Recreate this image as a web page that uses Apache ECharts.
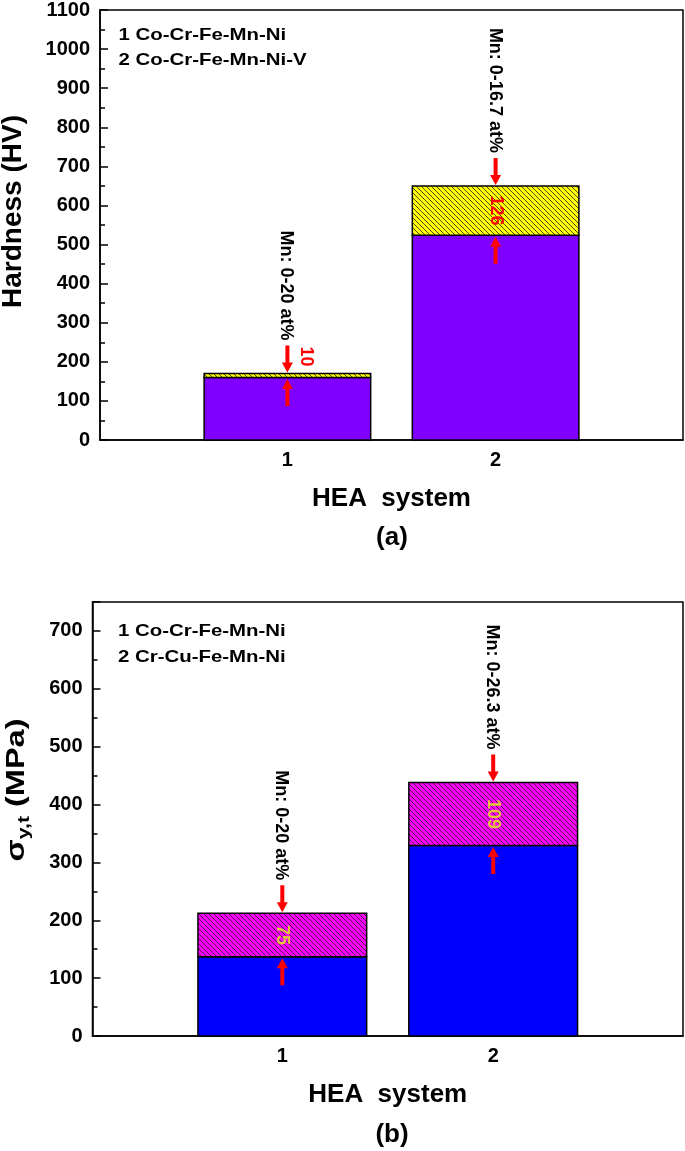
<!DOCTYPE html>
<html>
<head>
<meta charset="utf-8">
<script src="https://cdn.jsdelivr.net/npm/echarts@6/dist/echarts.min.js"></script>
<style>
html,body{margin:0;padding:0;background:#fff;}
#chart{width:685px;height:1151px;}
</style>
</head>
<body>
<div id="chart"></div>
<script>
// ---------- data ----------
const categories = [1, 2];
const hardnessBase = [160, 524];
const hardnessIncrease = [10, 126];
const strengthBase = [137, 329];
const strengthIncrease = [75, 109];
const mnRangeA = ['Mn: 0-20 at%', 'Mn: 0-16.7 at%'];
const mnRangeB = ['Mn: 0-20 at%', 'Mn: 0-26.3 at%'];
const legendA = ['1 Co-Cr-Fe-Mn-Ni', '2 Co-Cr-Fe-Mn-Ni-V'];
const legendB = ['1 Co-Cr-Fe-Mn-Ni', '2 Cr-Cu-Fe-Mn-Ni'];
const xTickValues = [1, 2];
const hardnessAxis = { min: 0, max: 1100, interval: 100 };
const strengthAxis = { min: 0, max: 750, interval: 100 };
const xAxisName = 'HEA  system';
const panelLabels = ['(a)', '(b)'];

// ---------- styles ----------
const FONT = '"Liberation Sans", Arial, sans-serif';

function hatchCanvas(bg, lineColor) {
  const c = document.createElement('canvas');
  const s = 5;
  c.width = s; c.height = s;
  const g = c.getContext('2d');
  g.fillStyle = bg;
  g.fillRect(0, 0, s, s);
  g.strokeStyle = lineColor;
  g.lineWidth = 0.8;
  for (const o of [-s, 0, s]) {
    g.beginPath();
    g.moveTo(o - 1, -1);
    g.lineTo(o + s + 1, s + 1);
    g.stroke();
  }
  return c;
}

const yellowHatch = { image: hatchCanvas('#ffff00', '#222'), repeat: 'repeat' };
const magentaHatch = { image: hatchCanvas('#ff00ff', '#222'), repeat: 'repeat' };

function arrowDown(cx, tipY) {
  const L = 27, hw = 5.5, hl = 10, sw = 2;
  const tail = tipY - L;
  return [[cx - sw, tail], [cx + sw, tail], [cx + sw, tipY - hl], [cx + hw, tipY - hl],
          [cx, tipY], [cx - hw, tipY - hl], [cx - sw, tipY - hl]];
}
function arrowUp(cx, tipY) {
  const L = 27, hw = 5.5, hl = 10, sw = 2;
  const tail = tipY + L;
  return [[cx - sw, tail], [cx + sw, tail], [cx + sw, tipY + hl], [cx + hw, tipY + hl],
          [cx, tipY], [cx - hw, tipY + hl], [cx - sw, tipY + hl]];
}

function makeRender(baseColor, hatch, valueColor, notes) {
  return function (params, api) {
    const x = api.value(0), base = api.value(1), inc = api.value(2);
    const p0 = api.coord([x, 0]);
    const p1 = api.coord([x, base]);
    const p2 = api.coord([x, base + inc]);
    const w = api.size([0.8, 0])[0];
    const cx = p0[0];
    const left = cx - w / 2;
    const segH = p1[1] - p2[1];
    const downTip = p2[1] - 1;
    const tail = downTip - 27;
    const children = [
      { type: 'rect', shape: { x: left, y: p1[1], width: w, height: p0[1] - p1[1] },
        style: { fill: baseColor, stroke: '#000', lineWidth: 1.5 } },
      { type: 'rect', shape: { x: left, y: p2[1], width: w, height: segH },
        style: { fill: hatch, stroke: '#000', lineWidth: 1.5 } },
      { type: 'polygon', shape: { points: arrowDown(cx, downTip) }, style: { fill: '#ff0000' } },
      { type: 'polygon', shape: { points: arrowUp(cx, p1[1] + 1.5) }, style: { fill: '#ff0000' } },
      { type: 'text', x: cx - 1, y: tail - 5, rotation: -Math.PI / 2,
        style: { text: notes[params.dataIndex], font: 'bold 18px ' + FONT, fill: '#000',
                 textAlign: 'right', textVerticalAlign: 'middle', align: 'right', verticalAlign: 'middle' } }
    ];
    let lx = cx, ly = (p1[1] + p2[1]) / 2;
    if (segH < 25) { lx = cx + 19; ly = p2[1] - 17; }
    children.push({ type: 'text', x: lx, y: ly, rotation: -Math.PI / 2,
      style: { text: String(inc), font: 'bold 18px ' + FONT, fill: valueColor,
               textAlign: 'center', textVerticalAlign: 'middle', align: 'center', verticalAlign: 'middle' } });
    return { type: 'group', children };
  };
}

function yAxisCfg(gridIndex, ax) {
  return {
    type: 'value', gridIndex, min: ax.min, max: ax.max, interval: ax.interval,
    axisLine: { show: true, lineStyle: { color: '#000', width: 1.5 } },
    axisTick: { show: true, inside: true, length: 8, lineStyle: { color: '#000', width: 1.5 } },
    minorTick: { show: true, splitNumber: 2, length: 5, lineStyle: { color: '#000', width: 1.5 } },
    splitLine: { show: false },
    axisLabel: { color: '#000', fontFamily: FONT, fontWeight: 'bold', fontSize: 20, margin: 10,
                 formatter: v => String(v),
                 showMaxLabel: ax.max % ax.interval === 0 }
  };
}
function xAxisCfg(gridIndex) {
  return {
    type: 'value', gridIndex, min: 0.1, max: 2.9,
    axisLine: { show: true, lineStyle: { color: '#000', width: 1.5 } },
    axisTick: { show: false },
    splitLine: { show: false },
    axisLabel: { customValues: xTickValues, color: '#000', fontFamily: FONT, fontWeight: 'bold',
                 fontSize: 20, margin: 10, formatter: v => String(v) },
    name: xAxisName, nameLocation: 'middle', nameGap: 46,
    nameTextStyle: { color: '#000', fontFamily: FONT, fontWeight: 'bold', fontSize: 26 }
  };
}

function legendGraphics(lines, x, ys) {
  return lines.map((t, i) => ({
    type: 'text', x: x, y: ys[i], scaleX: 1.2,
    style: { text: t, font: 'bold 17px ' + FONT, fill: '#000', textAlign: 'left', textVerticalAlign: 'middle' }
  }));
}

const option = {
  animation: false,
  backgroundColor: '#fff',
  grid: [
    { left: 100, top: 9, width: 583, height: 431, show: true, borderColor: '#000', borderWidth: 1.5, containLabel: false },
    { left: 92.5, top: 602, width: 590.5, height: 434, show: true, borderColor: '#000', borderWidth: 1.5, containLabel: false }
  ],
  xAxis: [xAxisCfg(0), xAxisCfg(1)],
  yAxis: [yAxisCfg(0, hardnessAxis), yAxisCfg(1, strengthAxis)],
  series: [
    { type: 'custom', xAxisIndex: 0, yAxisIndex: 0,
      renderItem: makeRender('#8000ff', yellowHatch, '#ff0000', mnRangeA),
      data: categories.map((c, i) => [c, hardnessBase[i], hardnessIncrease[i]]) },
    { type: 'custom', xAxisIndex: 1, yAxisIndex: 1,
      renderItem: makeRender('#0000ff', magentaHatch, '#e8c43a', mnRangeB),
      data: categories.map((c, i) => [c, strengthBase[i], strengthIncrease[i]]) }
  ],
  graphic: [
    ...legendGraphics(legendA, 118.5, [35.5, 60]),
    ...legendGraphics(legendB, 118, [631, 657]),
    { type: 'text', x: 13, y: 211.5, rotation: Math.PI / 2,
      style: { text: 'Hardness (HV)', font: 'bold 28px ' + FONT, fill: '#000', textAlign: 'center', textVerticalAlign: 'middle' } },
    { type: 'text', x: 17, y: 790, rotation: Math.PI / 2, scaleX: 1.25,
      style: { text: '{s|σ}{sub|y,t}{m| (MPa)}', textAlign: 'center', textVerticalAlign: 'middle', fill: '#000',
               rich: {
                 s: { fontFamily: FONT, fontWeight: 'bold', fontSize: 26, lineHeight: 32, verticalAlign: 'middle' },
                 sub: { fontFamily: FONT, fontWeight: 'bold', fontSize: 17, lineHeight: 32, verticalAlign: 'bottom' },
                 m: { fontFamily: FONT, fontWeight: 'bold', fontSize: 26, lineHeight: 32, verticalAlign: 'middle' }
               } } },
    { type: 'text', x: 392, y: 538,
      style: { text: panelLabels[0], font: 'bold 26px ' + FONT, fill: '#000', textAlign: 'center', textVerticalAlign: 'middle' } },
    { type: 'text', x: 392, y: 1135,
      style: { text: panelLabels[1], font: 'bold 26px ' + FONT, fill: '#000', textAlign: 'center', textVerticalAlign: 'middle' } }
  ]
};

const chart = echarts.init(document.getElementById('chart'), null, { renderer: 'canvas' });
chart.setOption(option);
</script>
</body>
</html>
